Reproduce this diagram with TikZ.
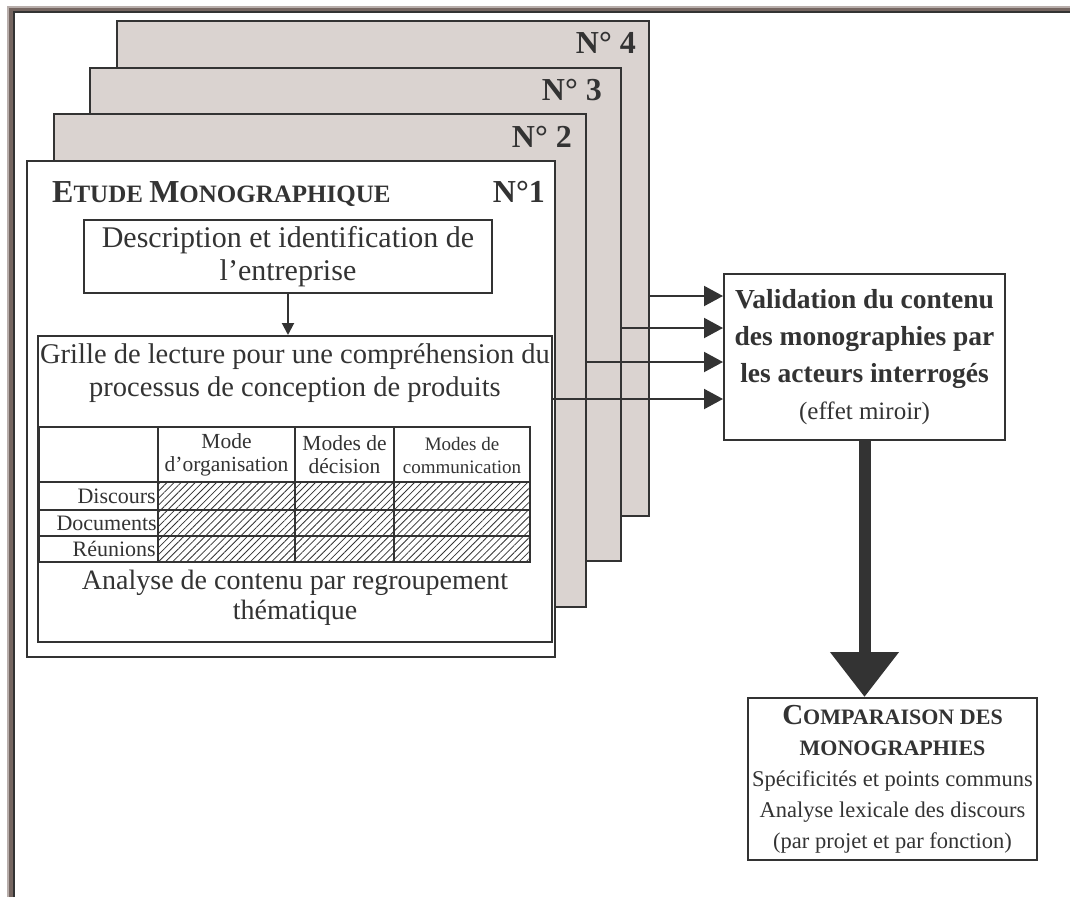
\documentclass[tikz,border=0pt]{standalone}
\usepackage{fontspec}
\setmainfont{Liberation Serif}
\usetikzlibrary{arrows.meta,patterns.meta}
\definecolor{cardgray}{RGB}{218,211,208}
\definecolor{ink}{RGB}{51,51,51}
\definecolor{frameA}{RGB}{184,174,171}
\definecolor{frameB}{RGB}{117,102,97}
\newcommand{\fsz}[2]{\fontsize{#1}{#2}\selectfont}
% fake small capitals: big size, small size, first letter, rest
\newcommand{\scword}[4]{{\fontsize{#1}{#1}\selectfont #3}{\fontsize{#2}{#2}\selectfont #4}}
\tikzset{
  card/.style={draw=ink, line width=2pt, fill=cardgray, anchor=north west, inner sep=0pt},
  box/.style={draw=ink, line width=2pt, fill=white, inner sep=0pt, align=center, text=ink},
  txt/.style={text=ink, inner sep=0pt, align=center},
  numlbl/.style={text=ink, inner sep=0pt, anchor=base east, font=\fsz{32}{36}\bfseries},
  hdr/.style={text=ink, inner sep=0pt, align=center, font=\fsz{21.5}{23}},
  rowlbl/.style={text=ink, inner sep=0pt, anchor=east, font=\fsz{22}{24}},
  arr/.style={draw=ink, line width=2pt, -{Triangle[length=19pt,width=20pt]}},
}
\begin{document}
\begin{tikzpicture}[x=1pt,y=-1pt]
    \useasboundingbox (0,0) rectangle (1070,897);
    % outer frame
    \draw[frameA, line width=2pt] (8,897) -- (8,7) -- (1070,7);
    \draw[frameB, line width=3.5pt] (11,897) -- (11,9.5) -- (1070,9.5);
    \draw[ink, line width=2pt] (14,897) -- (14,12) -- (1070,12);

    % stacked monographs
    \node[card, minimum width=532pt, minimum height=495pt] (card4) at (116,20) {};
    \node[card, minimum width=531pt, minimum height=493pt] (card3) at (89,67) {};
    \node[card, minimum width=532pt, minimum height=493pt] (card2) at (53,113) {};
    \node[card, fill=white, minimum width=528pt, minimum height=496pt] (card1) at (26,160) {};
    \node[numlbl] (n4) at (636,53) {N° 4};
    \node[numlbl] (n3) at (602,100) {N° 3};
    \node[numlbl] (n2) at (572,147) {N° 2};

    \node[txt, anchor=base west, font=\fsz{25}{30}\bfseries] (title) at (52,202)
        {\scword{32}{25}{E}{TUDE} \scword{32}{25}{M}{ONOGRAPHIQUE}};
    \node[numlbl] (n1) at (545,202) {N°1};

    \node[box, minimum width=408pt, minimum height=73pt, font=\fsz{30}{33}] (desc) at (288,256.5)
        {Description et identification de\\l’entreprise};
    \node[box, minimum width=514pt, minimum height=306pt, anchor=north west] (grille) at (37,335) {};
    \draw[draw=ink, line width=2pt, -{Triangle[length=12pt,width=12pt]}] (desc.south) -- (desc.south |- grille.north);
    \node[txt, font=\fsz{28.5}{33}] (grtxt) at (295,373.5)
        {Grille de lecture pour une compréhension du\\processus de conception de produits};
    \node[txt, font=\fsz{28}{30}] (antxt) at (295,598)
        {Analyse de contenu par regroupement\\thématique};

    % reading grid
    \fill[pattern={Lines[angle=45,distance=5pt,line width=0.8pt]}, pattern color=ink] (158,482) rectangle (530,562);
    \draw[ink, line width=1.5pt] (39,427) rectangle (530,562);
    \foreach \x in {158,295,394}
        \draw[ink, line width=1.5pt] (\x,427) -- (\x,562);
    \foreach \y in {482,510,536}
        \draw[ink, line width=1.5pt] (39,\y) -- (530,\y);
    \node[hdr] (h1) at (226.5,455) {Mode\\d’organisation};
    \node[hdr] (h2) at (344.5,455) {Modes de\\décision};
    \node[hdr, font=\fsz{19}{23}] (h3) at (462,455) {Modes de\\communication};
    \node[rowlbl] (r1) at (156,496) {Discours};
    \node[rowlbl] (r2) at (157,523) {Documents};
    \node[rowlbl] (r3) at (156,549) {Réunions};

    % validation and comparison
    \node[box, minimum width=281pt, minimum height=166pt, font=\fsz{27.5}{37}] (val) at (864.5,357)
        {\bfseries Validation du contenu\\\bfseries des monographies par\\\bfseries les acteurs interrogés\\{\fsz{25}{37}(effet miroir)}};
    \node[box, minimum width=289pt, minimum height=162pt, font=\fsz{22.5}{31}] (cmp) at (892.5,779)
        {{\bfseries\scword{29}{22}{C}{OMPARAISON} \scword{22}{22}{}{DES}}\\{\bfseries\scword{22}{22}{}{MONOGRAPHIES}}\\Spécificités et points communs\\Analyse lexicale des discours\\(par projet et par fonction)};

    \coordinate (a4) at (0,296);
    \coordinate (a3) at (0,328);
    \coordinate (a2) at (0,362);
    \coordinate (a1) at (0,399);
    \draw[arr] (card4.east |- a4) -- (val.west |- a4);
    \draw[arr] (card3.east |- a3) -- (val.west |- a3);
    \draw[arr] (card2.east |- a2) -- (val.west |- a2);
    \draw[arr] (grille.east |- a1) -- (val.west |- a1);
    \draw[ink, line width=12pt, -{Triangle[length=45pt,width=66pt]}] (val.south) -- (val.south |- cmp.north);
\end{tikzpicture}
\end{document}
